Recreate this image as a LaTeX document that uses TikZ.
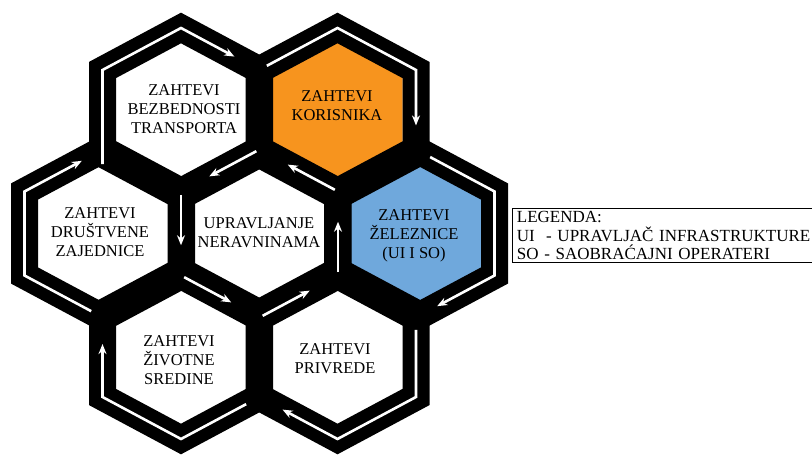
\documentclass[tikz,border=0pt]{standalone}
\usepackage{fontspec}
\setmainfont{Liberation Serif}
\usetikzlibrary{arrows.meta,calc}

\definecolor{hexorange}{RGB}{247,148,30}
\definecolor{hexblue}{RGB}{111,168,220}

\tikzset{
  band/.style={black, line width=27pt, line join=miter},
  ring/.style={white, line width=2.6pt, line join=miter, -{Stealth[length=10pt,width=8pt]}},
  celltext/.style={align=center, inner sep=0pt, font=\fontsize{16.5}{19}\selectfont},
}

\begin{document}
\begin{tikzpicture}[x=1pt, y=-1pt]
  \useasboundingbox (0,0) rectangle (812,457);

  % cell centres and corners
  \foreach \n/\cx/\cy in {tl/181/112, tr/337.5/112, l/103/233.5, c/259.5/233.5, r/416/233.5, bl/181/355, br/337.5/355} {
    \coordinate (\n) at (\cx,\cy);
    \coordinate (\n-t) at (\cx,\cy-84);
    \coordinate (\n-ur) at (\cx+78.5,\cy-42);
    \coordinate (\n-lr) at (\cx+78.5,\cy+42);
    \coordinate (\n-b) at (\cx,\cy+84);
    \coordinate (\n-ll) at (\cx-78.5,\cy+42);
    \coordinate (\n-ul) at (\cx-78.5,\cy-42);
  }

  % cell fills
  \foreach \n/\col in {tl/white, tr/hexorange, l/white, c/white, r/hexblue, bl/white, br/white}
    \fill[\col] ($(\n)!.83!(\n-t)$) -- ($(\n)!.83!(\n-ur)$) -- ($(\n)!.83!(\n-lr)$)
      -- ($(\n)!.83!(\n-b)$) -- ($(\n)!.83!(\n-ll)$) -- ($(\n)!.83!(\n-ul)$) -- cycle;

  % black frames
  \foreach \n in {tl, tr, l, c, r, bl, br}
    \draw[band] (\n-t) -- (\n-ur) -- (\n-lr) -- (\n-b) -- (\n-ll) -- (\n-ul) -- cycle;

  % inner loop (counter-clockwise)
  \foreach \a/\b in {t/ul, ul/ll, ll/b, b/lr, lr/ur, ur/t}
    \draw[ring] ($(c-\a)!.04!(c-\b)$) -- ($(c-\a)!.64!(c-\b)$);

  % outer loop (clockwise)
  \draw[ring] ($(tl-ll)!-.12!(tl-ul)$) -- (tl-ul) -- (tl-t) -- ($(tl-t)!.68!(tl-ur)$);
  \draw[ring] ($(tr-ul)!.1!(tr-t)$) -- (tr-t) -- (tr-ur) -- ($(tr-ur)!.66!(tr-lr)$);
  \draw[ring] ($(r-t)!.18!(r-ur)$) -- (r-ur) -- (r-lr) -- ($(r-lr)!.73!(r-b)$);
  \draw[ring] ($(br-ur)!.2!(br-lr)$) -- (br-lr) -- (br-b) -- ($(br-b)!.7!(br-ll)$);
  \draw[ring] ($(bl-lr)!.17!(bl-b)$) -- (bl-b) -- (bl-ll) -- ($(bl-ll)!.63!(bl-ul)$);
  \draw[ring] ($(l-b)!.15!(l-ll)$) -- (l-ll) -- (l-ul) -- ($(l-ul)!.73!(l-t)$);

  % labels
  \node (tltext) [celltext] at (184,109) {ZAHTEVI\\BEZBEDNOSTI\\TRANSPORTA};
  \node (trtext) [celltext] at (337,106) {ZAHTEVI\\KORISNIKA};
  \node (ltext) [celltext] at (100,232) {ZAHTEVI\\DRUŠTVENE\\ZAJEDNICE};
  \node (ctext) [celltext] at (259,232.5) {UPRAVLJANJE\\NERAVNINAMA};
  \node (rtext) [celltext] at (414,236) {ZAHTEVI\\ŽELEZNICE\\(UI I SO)};
  \node (bltext) [celltext] at (179,360) {ZAHTEVI\\ŽIVOTNE\\SREDINE};
  \node (brtext) [celltext] at (335,359) {ZAHTEVI\\PRIVREDE};

  % legend (runs past the right edge)
  \node (legend) [draw, line width=0.8pt, anchor=north west, align=left, text width=300pt,
    inner xsep=4.5pt, inner ysep=3pt, font=\fontsize{17}{18.5}\selectfont] at (512,208)
    {LEGENDA:\\UI\ \ - UPRAVLJAČ INFRASTRUKTURE\\SO - SAOBRAĆAJNI OPERATERI};
\end{tikzpicture}
\end{document}
